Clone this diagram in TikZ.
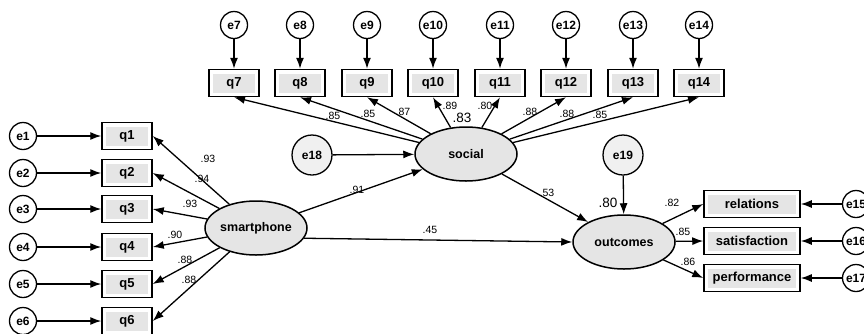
\documentclass[tikz,border=0pt]{standalone}
\usepackage{fontspec}
\setmainfont{Liberation Sans}
\usetikzlibrary{shapes.geometric, arrows.meta}

\begin{document}
\begin{tikzpicture}[x=1pt, y=-1pt,
    every node/.style={inner sep=0pt},
    seta/.style={-{Latex[length=11pt,width=8pt]}, line width=1.3pt}
  ]
  \tikzset{
    erro/.style={draw, circle, line width=1.3pt, minimum size=27pt, font=\fontsize{12}{12}\selectfont\bfseries},
    erromaior/.style={erro, minimum size=40pt, fill=gray!12},
    item/.style={draw, rectangle, line width=1.5pt, minimum width=50pt, minimum height=27pt,
      font=\fontsize{13}{13}\selectfont\bfseries,
      path picture={\fill[gray!20] ([shift={(4pt,-4pt)}]path picture bounding box.north west)
        rectangle ([shift={(-4pt,4pt)}]path picture bounding box.south east);}},
    itemlargo/.style={item, minimum width=96pt},
    latente/.style={draw, ellipse, line width=1.5pt, fill=gray!20, minimum width=102pt,
      minimum height=54pt, font=\fontsize{12.5}{12.5}\selectfont\bfseries},
    carga/.style={font=\fontsize{10.5}{10.5}\selectfont},
    rdois/.style={font=\fontsize{13.5}{13.5}\selectfont}
  }
  \useasboundingbox (0,0) rectangle (864,333);

  % latentes
  \node[latente] (smart) at (256,228) {smartphone};
  \node[latente] (social) at (466,154) {social};
  \node[latente] (outc) at (624,242) {outcomes};
  \node[erromaior] (e18) at (312,155) {e18};
  \node[erromaior] (e19) at (623,155) {e19};

  % itens do smartphone
  \node[item] (q1) at (127,136) {q1};
  \node[item] (q2) at (127,173) {q2};
  \node[item] (q3) at (127,209) {q3};
  \node[item] (q4) at (127,247) {q4};
  \node[item] (q5) at (127,284) {q5};
  \node[item] (q6) at (127,321) {q6};
  \node[erro] (e1) at (23,136) {e1};
  \node[erro] (e2) at (23,173) {e2};
  \node[erro] (e3) at (23,209) {e3};
  \node[erro] (e4) at (23,247) {e4};
  \node[erro] (e5) at (23,284) {e5};
  \node[erro] (e6) at (23,321) {e6};

  % itens do social
  \node[item] (q7) at (234,83) {q7};
  \node[item] (q8) at (300,83) {q8};
  \node[item] (q9) at (367,83) {q9};
  \node[item] (q10) at (433,83) {q10};
  \node[item] (q11) at (500,83) {q11};
  \node[item] (q12) at (566,83) {q12};
  \node[item] (q13) at (633,83) {q13};
  \node[item] (q14) at (699,83) {q14};
  \node[erro] (e7) at (234,25) {e7};
  \node[erro] (e8) at (300,25) {e8};
  \node[erro] (e9) at (367,25) {e9};
  \node[erro] (e10) at (433,25) {e10};
  \node[erro] (e11) at (500,25) {e11};
  \node[erro] (e12) at (566,25) {e12};
  \node[erro] (e13) at (633,25) {e13};
  \node[erro] (e14) at (699,25) {e14};

  % itens do outcomes
  \node[itemlargo] (rel) at (752,204) {relations};
  \node[itemlargo] (sat) at (752,241) {satisfaction};
  \node[itemlargo] (perf) at (752,278) {performance};
  \node[erro] (e15) at (856,204) {e15};
  \node[erro] (e16) at (856,241) {e16};
  \node[erro] (e17) at (856,278) {e17};

  % setas
  \draw[seta] (e1) -- (q1);
  \draw[seta] (e2) -- (q2);
  \draw[seta] (e3) -- (q3);
  \draw[seta] (e4) -- (q4);
  \draw[seta] (e5) -- (q5);
  \draw[seta] (e6) -- (q6);
  \draw[seta] (smart) -- (q1.east);
  \draw[seta] (smart) -- (q2.east);
  \draw[seta] (smart) -- (q3.east);
  \draw[seta] (smart) -- (q4.east);
  \draw[seta] (smart) -- (q5.east);
  \draw[seta] (smart) -- (q6.east);
  \draw[seta] (e7) -- (q7);
  \draw[seta] (e8) -- (q8);
  \draw[seta] (e9) -- (q9);
  \draw[seta] (e10) -- (q10);
  \draw[seta] (e11) -- (q11);
  \draw[seta] (e12) -- (q12);
  \draw[seta] (e13) -- (q13);
  \draw[seta] (e14) -- (q14);
  \draw[seta] (social) -- (q7.south);
  \draw[seta] (social) -- (q8.south);
  \draw[seta] (social) -- (q9.south);
  \draw[seta] (social) -- (q10.south);
  \draw[seta] (social) -- (q11.south);
  \draw[seta] (social) -- (q12.south);
  \draw[seta] (social) -- (q13.south);
  \draw[seta] (social) -- (q14.south);
  \draw[seta] (e18) -- (social);
  \draw[seta] (e19) -- (outc);
  \draw[seta] (smart) -- (social);
  \draw[seta] (smart.-12) -- (outc.west);
  \draw[seta] (social) -- (outc);
  \draw[seta] (outc) -- (rel.west);
  \draw[seta] (outc) -- (sat.west);
  \draw[seta] (outc) -- (perf.west);
  \draw[seta] (e15) -- (rel);
  \draw[seta] (e16) -- (sat);
  \draw[seta] (e17) -- (perf);

  % cargas
  \node[carga] (c1) at (208,159) {.93};
  \node[carga] (c2) at (202,179) {.94};
  \node[carga] (c3) at (190,204) {.93};
  \node[carga] (c4) at (175,235) {.90};
  \node[carga] (c5) at (185,260) {.88};
  \node[carga] (c6) at (189,280) {.88};
  \node[carga] (c7) at (333,116) {.85};
  \node[carga] (c8) at (368,114) {.85};
  \node[carga] (c9) at (403,112) {.87};
  \node[carga] (c10) at (450,106) {.89};
  \node[carga] (c11) at (485,106) {.80};
  \node[carga] (c12) at (530,112) {.88};
  \node[carga] (c13) at (567,114) {.88};
  \node[carga] (c14) at (600,115) {.85};
  \node[carga] (c15) at (672,203) {.82};
  \node[carga] (c16) at (683,232) {.85};
  \node[carga] (c17) at (688,262) {.86};
  \node[carga] (b1) at (357,190) {.91};
  \node[carga] (b2) at (430,230) {.45};
  \node[carga] (b3) at (547,193) {.53};
  \node[rdois] (r1) at (462,118) {.83};
  \node[rdois] (r2) at (608,203) {.80};
\end{tikzpicture}
\end{document}
